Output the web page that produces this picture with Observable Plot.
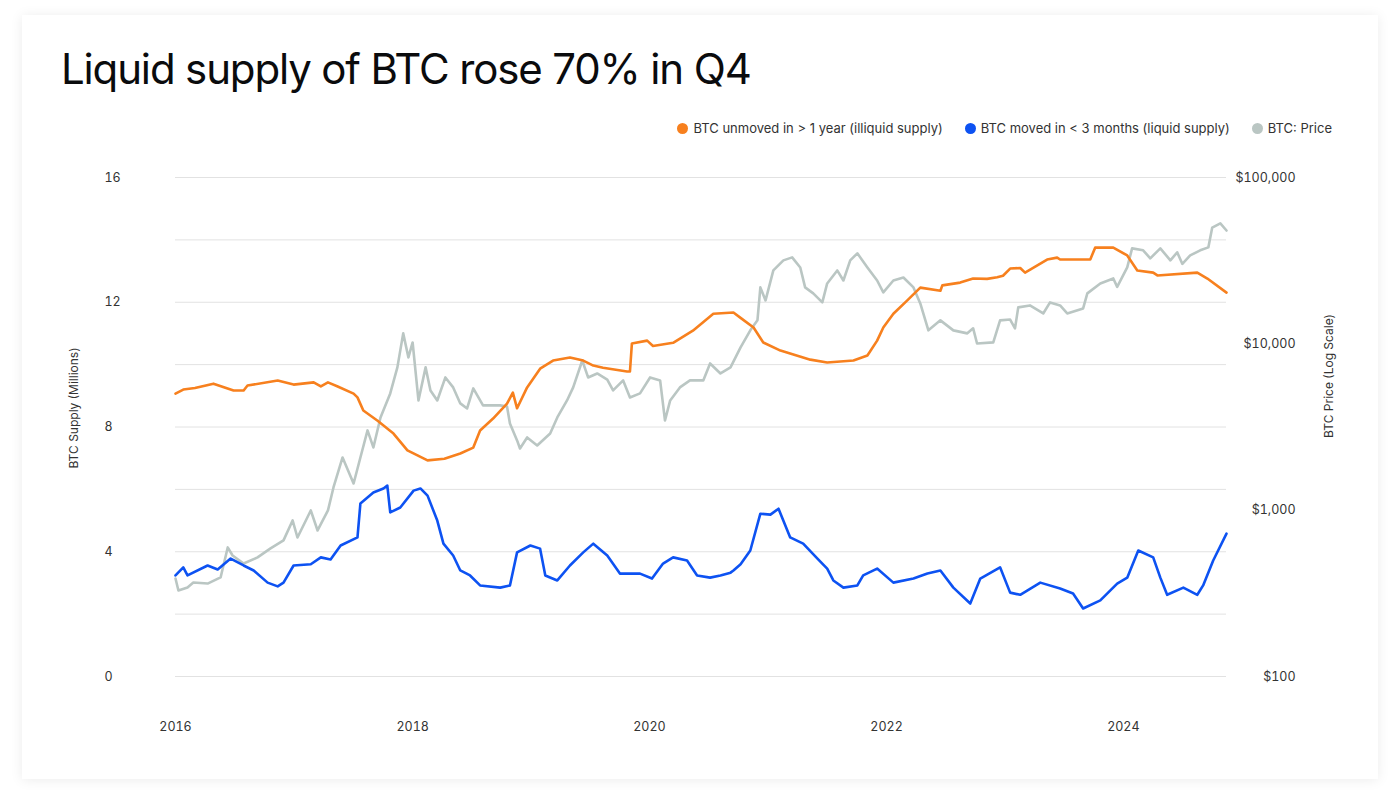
<!DOCTYPE html>
<html>
<head>
<meta charset="utf-8">
<script src="https://cdn.jsdelivr.net/npm/d3@7"></script>
<script src="https://cdn.jsdelivr.net/npm/@observablehq/plot@0.6"></script>
<style>
  html, body { margin: 0; padding: 0; background: #ffffff; }
  body { width: 1400px; height: 807px; overflow: hidden; position: relative; font-family: Inter, "Noto Sans", sans-serif; color: #222; }
  #card { position: absolute; left: 22px; top: 15px; width: 1356px; height: 764px; background: #fff; box-shadow: 0 1px 12px rgba(0,0,0,0.08); }
  #title { position: absolute; left: 61px; top: 48px; font-size: 42px; line-height: 42px; font-weight: 400; letter-spacing: -1.15px; color: #0a0b0d; white-space: nowrap; }
  #legend { position: absolute; right: 68px; top: 120px; height: 16px; display: flex; align-items: center; font-size: 13px; color: #333; white-space: nowrap; }
  #legend .item { display: flex; align-items: center; margin-left: 22px; }
  #legend .dot { width: 11px; height: 11px; border-radius: 50%; margin-right: 5px; }
  .layer { position: absolute; left: 0; top: 140px; }
  .axislabel { position: absolute; font-size: 12px; color: #333; white-space: nowrap; transform: translate(-50%, -50%) rotate(-90deg); }
</style>
</head>
<body>
<div id="card"></div>
<div id="title">Liquid supply of BTC rose 70% in Q4</div>
<div id="legend"></div>
<div id="chart"></div>
<div class="axislabel" style="left:73px; top:408px;">BTC Supply (Millions)</div>
<div class="axislabel" style="left:1328px; top:376px;">BTC Price (Log Scale)</div>
<script>
// ---------- Data ----------
const seriesNames = ["BTC unmoved in > 1 year (illiquid supply)", "BTC moved in < 3 months (liquid supply)", "BTC: Price"];
const seriesColors = ["#f7801e", "#0d52f2", "#bac6c3"];

const illiquidDates = ["2016-01-01","2016-01-25","2016-03-01","2016-04-27","2016-06-28","2016-07-29","2016-08-10","2016-11-11","2016-12-30","2017-03-02","2017-03-24","2017-04-15","2017-05-15","2017-07-03","2017-07-15","2017-08-02","2017-09-15","2017-11-03","2017-12-16","2018-02-16","2018-04-09","2018-05-28","2018-07-07","2018-07-28","2018-09-06","2018-10-19","2018-11-06","2018-11-19","2018-12-20","2019-01-29","2019-03-10","2019-05-01","2019-06-11","2019-07-12","2019-08-11","2019-10-24","2019-11-02","2019-11-08","2019-12-25","2020-01-12","2020-03-14","2020-05-14","2020-07-16","2020-09-16","2020-10-08","2020-11-17","2020-12-17","2021-02-08","2021-05-11","2021-07-02","2021-09-21","2021-11-03","2021-12-03","2021-12-22","2022-01-22","2022-03-06","2022-04-15","2022-06-16","2022-06-22","2022-08-16","2022-09-25","2022-11-07","2022-12-08","2022-12-26","2023-01-17","2023-02-17","2023-03-04","2023-05-11","2023-06-11","2023-06-20","2023-09-21","2023-10-06","2023-12-01","2024-01-13","2024-02-13","2024-04-02","2024-04-15","2024-08-16","2024-09-16","2024-11-14"];
const illiquidValues = [9.07,9.2,9.25,9.39,9.17,9.17,9.33,9.49,9.36,9.43,9.3,9.43,9.3,9.07,8.95,8.53,8.2,7.79,7.25,6.93,6.98,7.15,7.34,7.89,8.27,8.75,9.1,8.6,9.27,9.87,10.13,10.23,10.13,9.97,9.9,9.78,9.78,10.68,10.77,10.6,10.7,11.09,11.63,11.67,11.5,11.19,10.71,10.45,10.16,10.07,10.13,10.29,10.77,11.19,11.63,12.06,12.47,12.37,12.54,12.63,12.76,12.75,12.8,12.85,13.08,13.1,12.95,13.37,13.43,13.37,13.37,13.75,13.75,13.5,13.02,12.95,12.86,12.95,12.76,12.31];

const liquidDates = ["2016-01-01","2016-01-25","2016-02-07","2016-04-09","2016-05-10","2016-06-19","2016-07-29","2016-08-29","2016-10-11","2016-11-11","2016-11-29","2016-12-30","2017-02-21","2017-03-24","2017-04-23","2017-05-24","2017-07-15","2017-07-24","2017-09-02","2017-10-03","2017-10-15","2017-10-24","2017-11-24","2018-01-04","2018-01-25","2018-02-16","2018-03-18","2018-04-06","2018-05-06","2018-05-28","2018-06-27","2018-07-28","2018-09-28","2018-10-28","2018-11-19","2018-12-30","2019-01-29","2019-02-14","2019-03-23","2019-05-01","2019-06-11","2019-07-12","2019-08-24","2019-10-02","2019-12-03","2020-01-09","2020-02-12","2020-03-14","2020-04-26","2020-05-27","2020-07-06","2020-08-07","2020-09-07","2020-09-16","2020-10-08","2020-11-07","2020-12-08","2021-01-08","2021-02-02","2021-03-10","2021-04-19","2021-06-02","2021-07-02","2021-07-21","2021-08-21","2021-10-03","2021-10-21","2021-12-03","2022-01-22","2022-03-25","2022-05-07","2022-06-16","2022-07-26","2022-09-16","2022-10-17","2022-12-17","2023-01-17","2023-02-17","2023-04-20","2023-06-20","2023-07-30","2023-08-30","2023-10-22","2023-12-13","2024-01-13","2024-02-16","2024-04-02","2024-04-24","2024-05-15","2024-07-04","2024-08-16","2024-09-03","2024-10-04","2024-11-14"];
const liquidValues = [3.24,3.5,3.24,3.56,3.43,3.78,3.56,3.4,3.01,2.89,3.01,3.56,3.6,3.82,3.75,4.2,4.46,5.55,5.9,6.03,6.12,5.26,5.42,5.96,6.03,5.8,5.0,4.26,3.88,3.4,3.24,2.92,2.85,2.92,3.98,4.2,4.1,3.24,3.08,3.56,3.98,4.26,3.88,3.3,3.3,3.14,3.62,3.82,3.72,3.24,3.17,3.24,3.33,3.4,3.6,4.04,5.22,5.19,5.38,4.46,4.26,3.78,3.46,3.08,2.85,2.92,3.24,3.46,3.01,3.14,3.3,3.4,2.85,2.34,3.14,3.5,2.69,2.62,3.01,2.82,2.66,2.18,2.44,2.98,3.17,4.04,3.82,3.17,2.62,2.85,2.62,2.92,3.72,4.58];

const priceDates = ["2016-01-01","2016-01-10","2016-02-07","2016-02-25","2016-04-09","2016-05-19","2016-06-10","2016-06-25","2016-07-29","2016-09-10","2016-10-20","2016-11-29","2016-12-27","2017-01-11","2017-02-21","2017-03-14","2017-04-15","2017-05-02","2017-05-30","2017-07-03","2017-07-24","2017-08-15","2017-09-02","2017-09-24","2017-10-24","2017-11-15","2017-12-03","2017-12-19","2018-01-01","2018-01-19","2018-02-10","2018-02-25","2018-03-18","2018-04-12","2018-05-06","2018-05-28","2018-06-18","2018-07-07","2018-08-06","2018-09-28","2018-10-19","2018-10-28","2018-11-19","2018-11-28","2018-12-20","2019-01-20","2019-03-01","2019-03-23","2019-04-22","2019-05-11","2019-06-08","2019-06-26","2019-07-24","2019-08-24","2019-09-11","2019-10-12","2019-11-02","2019-12-03","2020-01-03","2020-02-03","2020-02-18","2020-03-05","2020-04-04","2020-05-05","2020-06-15","2020-07-06","2020-08-07","2020-09-07","2020-10-08","2020-11-07","2020-11-29","2020-12-08","2020-12-24","2021-01-17","2021-02-17","2021-03-16","2021-04-10","2021-04-25","2021-05-20","2021-06-17","2021-07-02","2021-08-02","2021-08-21","2021-09-11","2021-10-03","2021-11-03","2021-12-03","2021-12-22","2022-01-22","2022-02-22","2022-03-25","2022-04-15","2022-05-10","2022-06-16","2022-07-26","2022-09-07","2022-09-25","2022-10-07","2022-11-26","2022-12-17","2023-01-17","2023-02-01","2023-02-11","2023-03-19","2023-04-29","2023-05-20","2023-06-20","2023-07-12","2023-08-30","2023-09-12","2023-10-22","2023-12-01","2023-12-13","2024-01-13","2024-01-28","2024-03-02","2024-03-24","2024-04-24","2024-05-25","2024-06-15","2024-07-01","2024-07-25","2024-08-25","2024-09-19","2024-10-01","2024-10-26","2024-11-14"];
const priceValues = [388,329,343,367,362,394,597,534,478,520,589,658,867,685,996,755,996,1369,2074,1447,2074,3015,2383,3609,5035,7217,11560,8287,10190,4567,7217,5245,4567,6280,5470,4383,4089,5393,4265,4265,4200,3321,2626,2350,2737,2450,2892,3609,4567,5470,7943,6280,6637,6100,5245,6026,4760,5035,6280,6026,3461,4567,5470,6026,6026,7621,6637,7217,9518,12050,13840,21840,18240,27620,31750,33100,28790,21840,20100,17740,23070,27620,24040,31750,34990,28790,24040,20370,24040,25060,21840,17500,12050,13840,12050,11560,12390,10040,10200,13840,14000,12390,16560,17020,15230,17740,17020,15230,16330,20100,23070,24720,22000,28790,37500,36500,32660,37500,31750,35500,30230,34000,36500,38000,50000,53000,48000];

const supplyGridTicks = [0, 2, 4, 6, 8, 10, 12, 14, 16];
const supplyLabelTicks = [0, 4, 8, 12, 16];
const priceTicks = [100, 1000, 10000, 100000];
const yearTicks = ["2016-01-01", "2018-01-01", "2020-01-01", "2022-01-01", "2024-01-01"];
const xDomain = ["2016-01-01", "2024-11-14"];

// ---------- Build tables ----------
const illiquid = illiquidDates.map((d, i) => ({date: new Date(d), value: illiquidValues[i]}));
const liquid = liquidDates.map((d, i) => ({date: new Date(d), value: liquidValues[i]}));
const price = priceDates.map((d, i) => ({date: new Date(d), value: priceValues[i]}));

// ---------- Legend ----------
const legend = document.getElementById("legend");
seriesNames.forEach((name, i) => {
  const item = document.createElement("div");
  item.className = "item";
  const dot = document.createElement("span");
  dot.className = "dot";
  dot.style.background = seriesColors[i];
  const label = document.createElement("span");
  label.textContent = name;
  item.appendChild(dot);
  item.appendChild(label);
  legend.appendChild(item);
});

// ---------- Plots ----------
const dims = {width: 1400, height: 620, marginLeft: 175, marginRight: 174, marginTop: 37, marginBottom: 84};
const baseStyle = {fontFamily: "Inter, 'Noto Sans', sans-serif", fontSize: "12.5px", color: "#333", background: "transparent", overflow: "visible"};
const xOpts = {type: "utc", domain: xDomain.map(d => new Date(d))};

const gridPlot = Plot.plot({
  ...dims,
  style: baseStyle,
  x: xOpts,
  y: {domain: [0, 16]},
  marks: [
    Plot.ruleY(supplyGridTicks, {stroke: "#e2e2e2", strokeWidth: 1}),
    Plot.axisY(supplyLabelTicks, {anchor: "left", tickSize: 0, tickPadding: 71, textAnchor: "start", label: null, fill: "#333"}),
    Plot.axisX(yearTicks.map(d => new Date(d)), {anchor: "bottom", tickSize: 0, tickPadding: 46, tickFormat: "%Y", label: null, fill: "#333"})
  ]
});

const pricePlot = Plot.plot({
  ...dims,
  style: baseStyle,
  x: {...xOpts, axis: null},
  y: {type: "log", domain: [100, 100000]},
  marks: [
    Plot.lineY(price, {x: "date", y: "value", stroke: seriesColors[2], strokeWidth: 2.6, strokeLinejoin: "round"}),
    Plot.axisY(priceTicks, {anchor: "right", tickSize: 0, tickPadding: 69, textAnchor: "end", label: null, fill: "#333", tickFormat: d => "$" + d3.format(",")(d)})
  ]
});

const supplyPlot = Plot.plot({
  ...dims,
  style: baseStyle,
  x: {...xOpts, axis: null},
  y: {domain: [0, 16], axis: null},
  marks: [
    Plot.lineY(illiquid, {x: "date", y: "value", stroke: seriesColors[0], strokeWidth: 2.6, strokeLinejoin: "round"}),
    Plot.lineY(liquid, {x: "date", y: "value", stroke: seriesColors[1], strokeWidth: 2.6, strokeLinejoin: "round"})
  ]
});

const chart = document.getElementById("chart");
[gridPlot, pricePlot, supplyPlot].forEach(p => {
  p.classList.add("layer");
  p.style.position = "absolute";
  p.style.left = "0px";
  p.style.top = "140px";
  chart.appendChild(p);
});
</script>
</body>
</html>
